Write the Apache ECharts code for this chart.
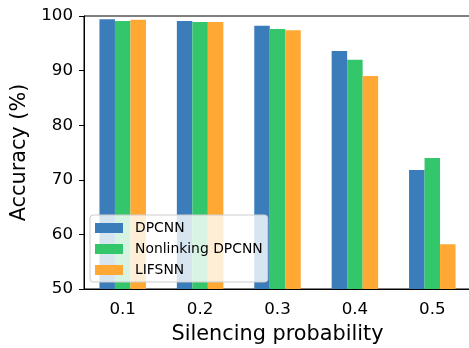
<!DOCTYPE html>
<html>
<head>
<meta charset="utf-8">
<script src="https://cdn.jsdelivr.net/npm/echarts@6/dist/echarts.min.js"></script>
<style>html,body{margin:0;padding:0;background:#fff;}#c{width:469px;height:348px;}</style>
</head>
<body>
<div id="c"></div>
<script>
const categories = ['0.1', '0.2', '0.3', '0.4', '0.5'];
const dpcnn = [99.4, 99.1, 98.2, 93.6, 71.8];
const nonlinking = [99.1, 98.9, 97.6, 92.0, 74.0];
const lifsnn = [99.3, 98.9, 97.4, 89.0, 58.2];
const yTicks = [50, 60, 70, 80, 90, 100];

const font = 'DejaVu Sans';
const chart = echarts.init(document.getElementById('c'), null, {renderer: 'canvas'});
chart.setOption({
  animation: false,
  backgroundColor: '#fff',
  grid: {left: 84, right: -2, top: 16, bottom: 59, show: true, borderColor: '#000', borderWidth: 1,
    backgroundColor: 'transparent', containLabel: false, outerBoundsMode: 'none'},
  legend: {
    orient: 'vertical', left: 90, top: 215,
    padding: [6, 5, 5, 5], itemGap: 7, itemWidth: 28, itemHeight: 10,
    backgroundColor: 'rgba(255,255,255,0.8)', borderColor: '#cccccc', borderWidth: 1, borderRadius: 3,
    icon: 'rect',
    textStyle: {fontFamily: font, fontSize: 13.9, color: '#000', padding: [0, 0, 0, 7]},
    data: ['DPCNN', 'Nonlinking DPCNN', 'LIFSNN'],
    z: 10
  },
  xAxis: {
    type: 'category', data: categories,
    name: 'Silencing probability', nameLocation: 'middle', nameGap: 35,
    nameTextStyle: {fontFamily: font, fontSize: 20.8, color: '#000'},
    axisLine: {lineStyle: {color: '#000', width: 1}},
    axisTick: {alignWithLabel: true, length: 5, lineStyle: {color: '#000'}},
    axisLabel: {fontFamily: font, fontSize: 16.7, color: '#000', margin: 12},
  },
  yAxis: {
    type: 'value', min: 50, max: 100, interval: 10,
    name: 'Accuracy (%)', nameLocation: 'middle', nameGap: 53,
    nameTextStyle: {fontFamily: font, fontSize: 20.8, color: '#000'},
    axisLine: {show: true, lineStyle: {color: '#000', width: 1}},
    axisTick: {show: true, length: 5, lineStyle: {color: '#000'}},
    axisLabel: {fontFamily: font, fontSize: 16.7, color: '#000', margin: 11,
      formatter: v => yTicks.includes(v) ? String(v) : ''},
    splitLine: {show: false}
  },
  series: [
    {name: 'DPCNN', type: 'bar', data: dpcnn, barWidth: 15.5, barGap: '0%', itemStyle: {color: '#3b7dba'}},
    {name: 'Nonlinking DPCNN', type: 'bar', data: nonlinking, barWidth: 15.5, barGap: '0%', itemStyle: {color: '#34c66a'}},
    {name: 'LIFSNN', type: 'bar', data: lifsnn, barWidth: 15.5, barGap: '0%', itemStyle: {color: '#ffa833'}}
  ]
});
</script>
</body>
</html>
